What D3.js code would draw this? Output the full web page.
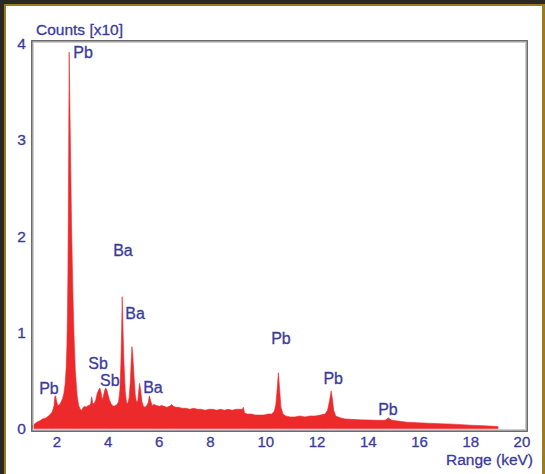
<!DOCTYPE html>
<html lang="en">
<head>
    <meta charset="UTF-8">
    <title>EDS spectrum</title>
    <script src="https://d3js.org/d3.v7.min.js"></script>
    <style>
        body {
            margin: 0;
            padding: 0;
            background: #2b2723;
            overflow: hidden;
        }

        svg {
            display: block;
        }

        .lbl {
            font-family: "Liberation Sans", Arial, sans-serif;
            fill: #3b3b9c;
            stroke: #3b3b9c;
            stroke-width: 0.3;
        }
    </style>
</head>
<body>
<script>
    const width = 545, height = 474;

    // spectrum, energy in keV and counts in units of x10
    const energy = [
        0.94, 1.05, 1.15, 1.25, 1.35, 1.48, 1.58, 1.66, 1.72, 1.76, 1.80, 1.83, 1.86, 1.90, 1.95, 2.02,
        2.08, 2.13, 2.18, 2.23, 2.27, 2.30, 2.32, 2.34, 2.36, 2.39, 2.43, 2.48, 2.53, 2.58, 2.63, 2.70,
        2.76, 2.82, 2.88, 2.94, 3.00, 3.06, 3.12, 3.18, 3.23, 3.27, 3.31, 3.37, 3.43, 3.48, 3.54, 3.59,
        3.64, 3.68, 3.72, 3.77, 3.81, 3.85, 3.90, 3.96, 4.02, 4.08, 4.14, 4.20, 4.26, 4.32, 4.37, 4.41,
        4.44, 4.46, 4.49, 4.53, 4.58, 4.63, 4.68, 4.73, 4.78, 4.82, 4.84, 4.87, 4.92, 4.97, 5.02, 5.07,
        5.11, 5.14, 5.18, 5.23, 5.29, 5.35, 5.42, 5.48, 5.52, 5.57, 5.63, 5.70, 5.80, 5.90, 6.00, 6.10,
        6.20, 6.30, 6.39, 6.46, 6.55, 6.65, 6.80, 6.95, 7.10, 7.25, 7.40, 7.55, 7.70, 7.85, 8.00, 8.15,
        8.30, 8.45, 8.60, 8.75, 8.90, 9.05, 9.15, 9.19, 9.24, 9.35, 9.50, 9.65, 9.84, 10.00, 10.15, 10.30,
        10.40, 10.46, 10.51, 10.56, 10.61, 10.66, 10.74, 10.85, 11.02, 11.20, 11.40, 11.60, 11.80, 12.00,
        12.20, 12.38, 12.48, 12.56, 12.62, 12.67, 12.72, 12.80, 12.89, 13.00, 13.16, 13.40, 13.75, 14.10,
        14.45, 14.73, 14.80, 14.86, 14.93, 15.00, 15.30, 15.59, 16.00, 16.40, 16.88, 17.40, 18.05, 18.60,
        19.14
    ];
    const counts = [
        0.03, 0.05, 0.07, 0.08, 0.10, 0.11, 0.13, 0.15, 0.17, 0.20, 0.24, 0.33, 0.34, 0.28, 0.24, 0.25,
        0.28, 0.31, 0.36, 0.46, 0.62, 0.85, 1.15, 1.60, 2.40, 3.91, 3.10, 2.15, 1.45, 0.95, 0.60, 0.34,
        0.24, 0.20, 0.19, 0.22, 0.23, 0.22, 0.24, 0.24, 0.26, 0.33, 0.26, 0.26, 0.30, 0.36, 0.40, 0.42,
        0.37, 0.30, 0.33, 0.39, 0.42, 0.41, 0.36, 0.30, 0.26, 0.24, 0.23, 0.24, 0.25, 0.28, 0.40, 0.68,
        1.05, 1.37, 1.05, 0.68, 0.38, 0.27, 0.26, 0.32, 0.50, 0.74, 0.85, 0.78, 0.55, 0.35, 0.27, 0.29,
        0.40, 0.47, 0.40, 0.28, 0.23, 0.22, 0.24, 0.27, 0.34, 0.29, 0.24, 0.25, 0.24, 0.23, 0.24, 0.23,
        0.22, 0.23, 0.25, 0.23, 0.22, 0.22, 0.21, 0.21, 0.20, 0.21, 0.20, 0.20, 0.19, 0.20, 0.20, 0.19,
        0.20, 0.19, 0.20, 0.19, 0.20, 0.20, 0.20, 0.22, 0.16, 0.15, 0.15, 0.14, 0.14, 0.14, 0.15, 0.15,
        0.18, 0.25, 0.40, 0.58, 0.40, 0.22, 0.15, 0.13, 0.12, 0.12, 0.13, 0.12, 0.13, 0.13,
        0.14, 0.15, 0.19, 0.29, 0.39, 0.31, 0.19, 0.13, 0.12, 0.11, 0.10, 0.095, 0.09, 0.088,
        0.085, 0.085, 0.10, 0.11, 0.095, 0.085, 0.075, 0.065, 0.06, 0.055, 0.05, 0.045, 0.035, 0.028,
        0.02
    ];

    const xTicks = [2, 4, 6, 8, 10, 12, 14, 16, 18, 20];
    const yTicks = [0, 1, 2, 3, 4];

    // element labels: name, keV and counts of the label centre
    const peakNames = ["Pb", "Pb", "Sb", "Sb", "Ba", "Ba", "Ba", "Pb", "Pb", "Pb"];
    const peakKeV = [2.93, 1.60, 3.52, 3.98, 4.49, 4.96, 5.66, 10.66, 12.70, 14.84];
    const peakCounts = [3.91, 0.42, 0.68, 0.50, 1.85, 1.20, 0.43, 0.93, 0.52, 0.20];

    const spectrum = energy.map((e, i) => ({ e: e, c: counts[i] }));

    const svg = d3.select("body").append("svg")
        .attr("width", width)
        .attr("height", height);

    // frame of the picture
    svg.append("rect").attr("x", 4).attr("y", 4).attr("width", 541).attr("height", 470).attr("fill", "#9c7b1e");
    svg.append("rect").attr("x", 6).attr("y", 6).attr("width", 536).attr("height", 468).attr("fill", "#ffffff");

    const x = d3.scaleLinear().domain([0.9375, 20.27]).range([32, 527]);
    const y = d3.scaleLinear().domain([0, 4]).range([428.5, 43.5]);

    const area = d3.area()
        .x(d => x(d.e))
        .y0(y(0))
        .y1(d => y(d.c));

    svg.append("path")
        .datum(spectrum)
        .attr("d", area)
        .attr("fill", "#ec2a2b")
        .attr("stroke", "#ec2a2b")
        .attr("stroke-width", 0.6);

    // plot box, light inside and dark outside
    svg.append("rect")
        .attr("x", 33.2).attr("y", 42.2)
        .attr("width", 492.6).attr("height", 387.6)
        .attr("fill", "none").attr("stroke", "#c9c9c9").attr("stroke-width", 1.4);
    svg.append("rect")
        .attr("x", 31.8).attr("y", 40.8)
        .attr("width", 495.4).attr("height", 390.4)
        .attr("fill", "none").attr("stroke", "#5c5c5c").attr("stroke-width", 1.4);

    // axes as text only
    svg.append("g").selectAll("text")
        .data(xTicks)
        .enter().append("text")
        .attr("class", "lbl")
        .attr("x", d => x(d) - 6.5)
        .attr("y", 447)
        .attr("font-size", 15)
        .text(d => d);

    svg.append("g").selectAll("text")
        .data(yTicks)
        .enter().append("text")
        .attr("class", "lbl")
        .attr("x", 21.5)
        .attr("y", d => y(d) + 5.5)
        .attr("text-anchor", "middle")
        .attr("font-size", 15.5)
        .text(d => d);

    svg.append("text")
        .attr("class", "lbl")
        .attr("x", 36)
        .attr("y", 35)
        .attr("font-size", 15.5)
        .text("Counts [x10]");

    svg.append("text")
        .attr("class", "lbl")
        .attr("x", 533)
        .attr("y", 465)
        .attr("text-anchor", "end")
        .attr("font-size", 15.5)
        .text("Range (keV)");

    svg.append("g").selectAll("text")
        .data(peakNames)
        .enter().append("text")
        .attr("class", "lbl")
        .attr("x", (d, i) => x(peakKeV[i]))
        .attr("y", (d, i) => y(peakCounts[i]) + 5.5)
        .attr("text-anchor", "middle")
        .attr("font-size", 16)
        .text(d => d);
</script>
</body>
</html>
